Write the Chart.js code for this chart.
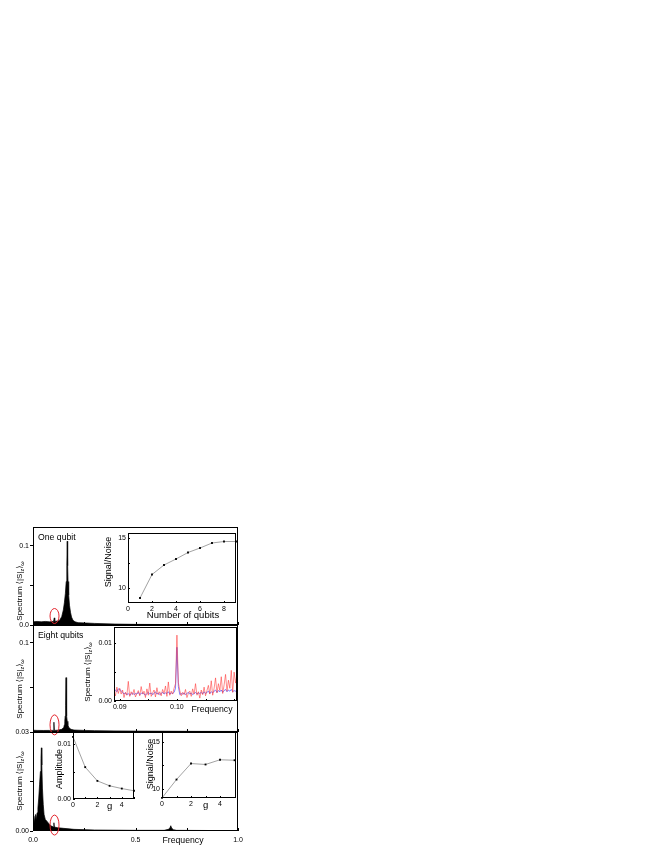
<!DOCTYPE html>
<html lang="en">
<head>
<meta charset="UTF-8">
<title>Spectrum vs number of qubits</title>
<script src="https://cdn.jsdelivr.net/npm/chart.js"></script>
<style>
  body { margin: 0; background: #fff; }
  #fig { position: relative; width: 664px; height: 860px; }
  #fig canvas { position: absolute; }
</style>
</head>
<body>
<div id="fig">
  <canvas id="cTop"></canvas>
  <canvas id="cMid"></canvas>
  <canvas id="cBot"></canvas>
  <canvas id="cQubits"></canvas>
  <canvas id="cZoom"></canvas>
  <canvas id="cAmp"></canvas>
  <canvas id="cSnr"></canvas>
</div>
<script>
// --- main spectra (frequency, amplitude) ---
const oneFreq = [0, 0.02, 0.04, 0.06, 0.08, 0.1, 0.102, 0.104, 0.106, 0.12, 0.13, 0.14, 0.148, 0.153, 0.158, 0.162, 0.165, 0.167, 0.169, 0.171, 0.174, 0.178, 0.183, 0.188, 0.195, 0.205, 0.22, 0.26, 0.3, 0.4, 0.5, 0.7, 1.0];
const oneAmp  = [0.004, 0.0045, 0.004, 0.0045, 0.004, 0.0045, 0.0045, 0.009, 0.0045, 0.005, 0.006, 0.0105, 0.019, 0.028, 0.04, 0.055, 0.075, 0.106, 0.075, 0.055, 0.038, 0.025, 0.016, 0.01, 0.006, 0.004, 0.003, 0.0025, 0.002, 0.0012, 0.0008, 0.0005, 0.0003];

const eightFreq = [0, 0.02, 0.05, 0.08, 0.1, 0.102, 0.104, 0.12, 0.14, 0.15, 0.153, 0.155, 0.157, 0.159, 0.161, 0.163, 0.165, 0.167, 0.17, 0.175, 0.185, 0.2, 0.25, 0.3, 0.4, 0.5, 0.6, 0.8, 1.0];
const eightAmp  = [0.002, 0.0018, 0.0017, 0.0018, 0.0018, 0.011, 0.0018, 0.002, 0.003, 0.005, 0.008, 0.012, 0.018, 0.03, 0.061, 0.03, 0.018, 0.012, 0.008, 0.005, 0.003, 0.0022, 0.0018, 0.0015, 0.0012, 0.001, 0.0009, 0.0007, 0.0006];

const gFreq = [0, 0.004, 0.008, 0.012, 0.016, 0.02, 0.024, 0.028, 0.032, 0.036, 0.039, 0.041, 0.043, 0.046, 0.05, 0.054, 0.06, 0.07, 0.08, 0.09, 0.1, 0.102, 0.104, 0.12, 0.15, 0.2, 0.3, 0.5, 0.64, 0.66, 0.668, 0.672, 0.676, 0.685, 0.7, 1.0];
const gAmp  = [0.003, 0.0045, 0.0025, 0.005, 0.0035, 0.0055, 0.007, 0.01, 0.014, 0.018, 0.022, 0.0252, 0.02, 0.013, 0.008, 0.005, 0.0035, 0.0028, 0.002, 0.0015, 0.0012, 0.0025, 0.0012, 0.001, 0.0008, 0.0005, 0.0003, 0.0002, 0.0002, 0.0005, 0.0009, 0.0016, 0.0009, 0.0004, 0.0002, 0.0001];

// --- inset: signal/noise vs number of qubits ---
const qubits = [1, 2, 3, 4, 5, 6, 7, 8, 9];
const qubitSnr = [9.0, 11.35, 12.3, 12.9, 13.55, 14.0, 14.5, 14.65, 14.65];

// --- inset: zoom around f = 0.1 ---
const zoomFreq = [0.089, 0.08925, 0.0895, 0.08975,
  0.09, 0.09025, 0.0905, 0.09075, 0.091, 0.09125, 0.0915, 0.09175, 0.092, 0.09225,
  0.0925, 0.09275, 0.093, 0.09325, 0.0935, 0.09375, 0.094, 0.09425, 0.0945, 0.09475,
  0.095, 0.09525, 0.0955, 0.09575, 0.096, 0.09625, 0.0965, 0.09675, 0.097, 0.09725,
  0.0975, 0.09775, 0.098, 0.09825, 0.0985, 0.09875, 0.099, 0.09925, 0.0995, 0.09975,
  0.1, 0.10025, 0.1005, 0.10075, 0.101, 0.10125, 0.1015, 0.10175, 0.102, 0.10225,
  0.1025, 0.10275, 0.103, 0.10325, 0.1035, 0.10375, 0.104, 0.10425, 0.1045, 0.10475,
  0.105, 0.10525, 0.1055, 0.10575, 0.106, 0.10625, 0.1065, 0.10675, 0.107, 0.10725,
  0.1075, 0.10775, 0.108, 0.10825, 0.1085, 0.10875, 0.109, 0.10925, 0.1095, 0.10975,
  0.11, 0.11025, 0.1105];
const zoomRed = [0.0016, 0.0009, 0.0024, 0.0013,
  0.0022, 0.0012, 0.0019, 0.0006, 0.0015, 0.0010, 0.0034, 0.0008, 0.0016, 0.0011,
  0.0020, 0.0007, 0.0013, 0.0018, 0.0009, 0.0025, 0.0012, 0.0017, 0.0006, 0.0021,
  0.0010, 0.0031, 0.0008, 0.0014, 0.0019, 0.0007, 0.0023, 0.0011, 0.0016, 0.0009,
  0.0020, 0.0013, 0.0026, 0.0008, 0.0033, 0.0010, 0.0017, 0.0012, 0.0022, 0.0030,
  0.0114, 0.0032, 0.0018, 0.0009, 0.0015, 0.0011, 0.0020, 0.0006, 0.0013, 0.0017,
  0.0008, 0.0021, 0.0012, 0.0030, 0.0010, 0.0016, 0.0005, 0.0019, 0.0011, 0.0024,
  0.0009, 0.0018, 0.0027, 0.0012, 0.0035, 0.0010, 0.0022, 0.0040, 0.0014, 0.0030,
  0.0018, 0.0042, 0.0013, 0.0028, 0.0046, 0.0017, 0.0036, 0.0022, 0.0053, 0.0015,
  0.0050, 0.0031, 0.0047];
const zoomBlue = [0.0017, 0.0019, 0.0016, 0.0021,
  0.0020, 0.0018, 0.0015, 0.0012, 0.0014, 0.0011, 0.0013, 0.0010, 0.0012, 0.0014,
  0.0011, 0.0013, 0.0012, 0.0015, 0.0011, 0.0013, 0.0014, 0.0012, 0.0010, 0.0013,
  0.0015, 0.0012, 0.0014, 0.0011, 0.0013, 0.0016, 0.0012, 0.0014, 0.0011, 0.0013,
  0.0015, 0.0012, 0.0014, 0.0013, 0.0016, 0.0012, 0.0014, 0.0013, 0.0015, 0.0022,
  0.0093, 0.0025, 0.0011, 0.0013, 0.0012, 0.0014, 0.0011, 0.0013, 0.0015, 0.0012,
  0.0014, 0.0011, 0.0013, 0.0015, 0.0012, 0.0014, 0.0013, 0.0015, 0.0012, 0.0016,
  0.0013, 0.0015, 0.0017, 0.0013, 0.0016, 0.0014, 0.0017, 0.0019, 0.0015, 0.0018,
  0.0016, 0.0019, 0.0015, 0.0018, 0.0020, 0.0016, 0.0019, 0.0017, 0.0020, 0.0016,
  0.0018, 0.0017, 0.0019];

// --- insets vs g ---
const gVals = [0, 1, 2, 3, 4, 5];
const gAmplitude = [0.0113, 0.0058, 0.0033, 0.0024, 0.0019, 0.0015];
const gSnr = [9.05, 11.0, 12.7, 12.6, 13.1, 13.05];

// --- tick labels (value, text); other ticks get no label ---
const topYTicks = [[0, '0.0'], [0.1, '0.1']];
const midYTicks = [[0.1, '0.1']];
const botYTicks = [[0, '0.00'], [0.03, '0.03']];
const freqTicks = [[0, '0.0'], [0.5, '0.5'], [1, '1.0']];
const qubitXTicks = [[0, '0'], [2, '2'], [4, '4'], [6, '6'], [8, '8']];
const snrYTicks = [[10, '10'], [15, '15']];
const zoomXTicks = [[0.09, '0.09'], [0.1, '0.10']];
const zoomYTicks = [[0, '0.00'], [0.01, '0.01']];
const gXTicks = [[0, '0'], [2, '2'], [3, 'g'], [4, '4']];
const ampYTicks = [[0, '0.00'], [0.01, '0.01']];

const FONT = '"Liberation Sans", Arial, "DejaVu Sans", sans-serif';
Chart.defaults.font.family = FONT;
Chart.defaults.font.size = 7;
Chart.defaults.color = '#000';
Chart.defaults.animation = false;
Chart.defaults.responsive = false;
Chart.defaults.plugins.legend.display = false;
Chart.defaults.plugins.tooltip.enabled = false;

const SPEC = [['Spectrum \u27E8|S|', 0], ['z', 1], ['\u27E9', 0], ['\u03C9', 1]];
const deco = {};

function pairs(xs, ys) { return xs.map((x, i) => ({ x, y: ys[i] })); }
function labelFor(v, list) {
  for (const [val, txt] of list) if (Math.abs(v - val) < 1e-9) return txt;
  return '';
}

function drawNote(ctx, n, off) {
  const size = n.size || 9;
  const parts = n.parts || [[n.t, 0]];
  ctx.save();
  ctx.translate(n.x - off.x, n.y - off.y);
  if (n.rot) ctx.rotate(-Math.PI / 2);
  ctx.fillStyle = '#000';
  ctx.textBaseline = 'middle';
  ctx.textAlign = 'left';
  let w = 0;
  parts.forEach(p => { ctx.font = (p[1] ? size * 0.7 : size) + 'px ' + FONT; w += ctx.measureText(p[0]).width; });
  let cx = n.align === 'left' ? 0 : -w / 2;
  parts.forEach(p => {
    ctx.font = (p[1] ? size * 0.7 : size) + 'px ' + FONT;
    ctx.fillText(p[0], cx, p[1] ? size * 0.35 : 0);
    cx += ctx.measureText(p[0]).width;
  });
  ctx.restore();
}

// frame box, inward ticks, red rings and free text
Chart.register({
  id: 'decor',
  beforeDraw(chart) {
    const d = deco[chart.canvas.id];
    if (!d || !d.white) return;
    const c = chart.chartArea, ctx = chart.ctx;
    ctx.save();
    ctx.fillStyle = '#fff';
    ctx.fillRect(c.left, c.top, c.right - c.left, c.bottom - c.top);
    ctx.restore();
  },
  afterDraw(chart) {
    const d = deco[chart.canvas.id];
    if (!d) return;
    const { ctx, chartArea: c, scales } = chart;
    ctx.save();
    ctx.strokeStyle = '#000';
    ctx.lineWidth = 1;
    ctx.strokeRect(c.left + 0.5, c.top + 0.5, c.right - c.left - 1, c.bottom - c.top - 1);
    ctx.beginPath();
    if (d.xIn) scales.x.ticks.forEach(t => {
      const px = Math.round(scales.x.getPixelForValue(t.value)) + 0.5;
      ctx.moveTo(px, c.bottom); ctx.lineTo(px, c.bottom - d.xIn);
    });
    if (d.yIn) scales.y.ticks.forEach(t => {
      const py = Math.round(scales.y.getPixelForValue(t.value)) + 0.5;
      ctx.moveTo(c.left, py); ctx.lineTo(c.left + d.yIn, py);
    });
    ctx.stroke();
    (d.rings || []).forEach(r => {
      ctx.beginPath();
      ctx.strokeStyle = '#e3262e';
      ctx.ellipse(scales.x.getPixelForValue(r.x), scales.y.getPixelForValue(r.y), r.rx, r.ry, 0, 0, Math.PI * 2);
      ctx.stroke();
    });
    (d.notes || []).forEach(n => drawNote(ctx, n, d.off));
    ctx.restore();
  }
});

function xAxis(min, max, step, ticks, pad) {
  return {
    type: 'linear', min, max,
    border: { display: false },
    grid: { display: false, drawTicks: false },
    ticks: {
      display: !!ticks, stepSize: step, includeBounds: false, padding: pad || 0,
      autoSkip: false, maxRotation: 0, minRotation: 0,
      callback: v => labelFor(v, ticks || []),
      font: ctx => ({ size: labelFor(ctx.tick ? ctx.tick.value : -1, ticks || []) === 'g' ? 9.5 : 7 })
    }
  };
}
function yAxis(min, max, step, ticks, outTick, pad) {
  return {
    type: 'linear', min, max,
    border: { display: false },
    grid: outTick
      ? { display: true, drawOnChartArea: false, drawTicks: true, tickLength: outTick, color: '#000' }
      : { display: false, drawTicks: false },
    ticks: { stepSize: step, includeBounds: false, padding: pad, callback: v => labelFor(v, ticks) }
  };
}

function make(id, box, m, datasets, scales, extra) {
  const c = document.getElementById(id);
  c.width = box.r - box.l + m.l + m.r;
  c.height = box.b - box.t + m.t + m.b;
  c.style.left = (box.l - m.l) + 'px';
  c.style.top = (box.t - m.t) + 'px';
  deco[id] = Object.assign({ off: { x: box.l - m.l, y: box.t - m.t } }, extra);
  scales.x.afterFit = s => { s.height = m.b; s.paddingLeft = 0; s.paddingRight = 0; };
  scales.y.afterFit = s => { s.width = m.l; s.paddingTop = 0; s.paddingBottom = 0; };
  return new Chart(c, {
    type: 'line',
    data: { datasets },
    options: {
      layout: { padding: { left: 0, top: m.t, right: m.r, bottom: 0 } },
      scales,
      elements: { point: { radius: 0 }, line: { tension: 0 } }
    }
  });
}

function spectrum(xs, ys) {
  return { data: pairs(xs, ys), borderColor: '#000', borderWidth: 0.7, backgroundColor: '#000', fill: 'origin', pointRadius: 0 };
}
function dots(xs, ys) {
  return {
    data: pairs(xs, ys), borderColor: '#8a8a8a', borderWidth: 0.8, clip: 4,
    pointRadius: 1.3, pointStyle: 'rect', pointBackgroundColor: '#000', pointBorderWidth: 0
  };
}

// main panels
make('cTop', { l: 33, t: 527, r: 238, b: 625 }, { l: 33, t: 2, r: 3, b: 5 },
  [spectrum(oneFreq, oneAmp)],
  { x: xAxis(0, 1, 0.25, null), y: yAxis(0, 0.124, 0.05, topYTicks, 3, 1) },
  { xIn: 3, rings: [{ x: 0.105, y: 0.0114, rx: 4.5, ry: 7.5 }],
    notes: [{ t: 'One qubit', x: 38, y: 538, size: 8.7, align: 'left' },
            { parts: SPEC, x: 19.5, y: 591, size: 8, rot: true }] });

make('cMid', { l: 33, t: 625, r: 238, b: 732 }, { l: 33, t: 0, r: 3, b: 4 },
  [spectrum(eightFreq, eightAmp)],
  { x: xAxis(0, 1, 0.25, null), y: yAxis(0, 0.12, 0.05, midYTicks, 3, 1) },
  { xIn: 3, rings: [{ x: 0.105, y: 0.008, rx: 4.5, ry: 10 }],
    notes: [{ t: 'Eight qubits', x: 38, y: 636, size: 8.7, align: 'left' },
            { parts: SPEC, x: 19.5, y: 689, size: 8, rot: true }] });

make('cBot', { l: 33, t: 732, r: 238, b: 831 }, { l: 33, t: 6, r: 8, b: 20 },
  [spectrum(gFreq, gAmp)],
  { x: xAxis(0, 1, 0.25, freqTicks, 5), y: yAxis(0, 0.03, 0.015, botYTicks, 3, 1) },
  { xIn: 3, rings: [{ x: 0.105, y: 0.0018, rx: 4.5, ry: 10 }],
    notes: [{ t: 'Frequency', x: 183, y: 841, size: 8.7 },
            { parts: SPEC, x: 19.5, y: 781, size: 8, rot: true }] });

// insets
make('cQubits', { l: 128, t: 533, r: 238, b: 603 }, { l: 26, t: 4, r: 2, b: 18 },
  [dots(qubits, qubitSnr)],
  { x: xAxis(0, 9, 2, qubitXTicks, 2), y: yAxis(8.5, 15.5, 2.5, snrYTicks, 0, 2) },
  { white: true, xIn: 2, yIn: 2,
    notes: [{ t: 'Signal/Noise', x: 109, y: 562, size: 9, rot: true },
            { t: 'Number of qubits', x: 183, y: 615, size: 9.5 }] });

make('cZoom', { l: 114, t: 627, r: 237, b: 701 }, { l: 34, t: 2, r: 3, b: 16 },
  [
    { data: pairs(zoomFreq, zoomRed), borderColor: 'rgba(255,50,50,0.7)', borderWidth: 0.8, pointRadius: 0 },
    { data: pairs(zoomFreq, zoomBlue), borderColor: 'rgba(40,40,255,0.75)', borderWidth: 0.8, pointRadius: 0 }
  ],
  { x: xAxis(0.089, 0.1105, 0.005, zoomXTicks, 2), y: yAxis(0, 0.0128, 0.005, zoomYTicks, 0, 2) },
  { white: true, xIn: 2, yIn: 2,
    notes: [{ parts: SPEC, x: 88, y: 672, size: 8, rot: true },
            { t: 'Frequency', x: 212, y: 710, size: 8.7 }] });

make('cAmp', { l: 73, t: 732, r: 135, b: 799 }, { l: 20, t: 4, r: 3, b: 13 },
  [dots(gVals, gAmplitude)],
  { x: xAxis(0, 5, 1, gXTicks, 2), y: yAxis(0, 0.0122, 0.005, ampYTicks, 0, 2) },
  { white: true, xIn: 2, yIn: 2,
    notes: [{ t: 'Amplitude', x: 60, y: 769, size: 9, rot: true }] });

make('cSnr', { l: 162, t: 732, r: 238, b: 798 }, { l: 16, t: 4, r: 2, b: 13 },
  [dots(gVals, gSnr)],
  { x: xAxis(0, 5.1, 1, gXTicks, 2), y: yAxis(9.04, 16.05, 2.5, snrYTicks, 0, 2) },
  { white: true, xIn: 2, yIn: 2,
    notes: [{ t: 'Signal/Noise', x: 151, y: 764, size: 9, rot: true }] });
</script>
</body>
</html>
